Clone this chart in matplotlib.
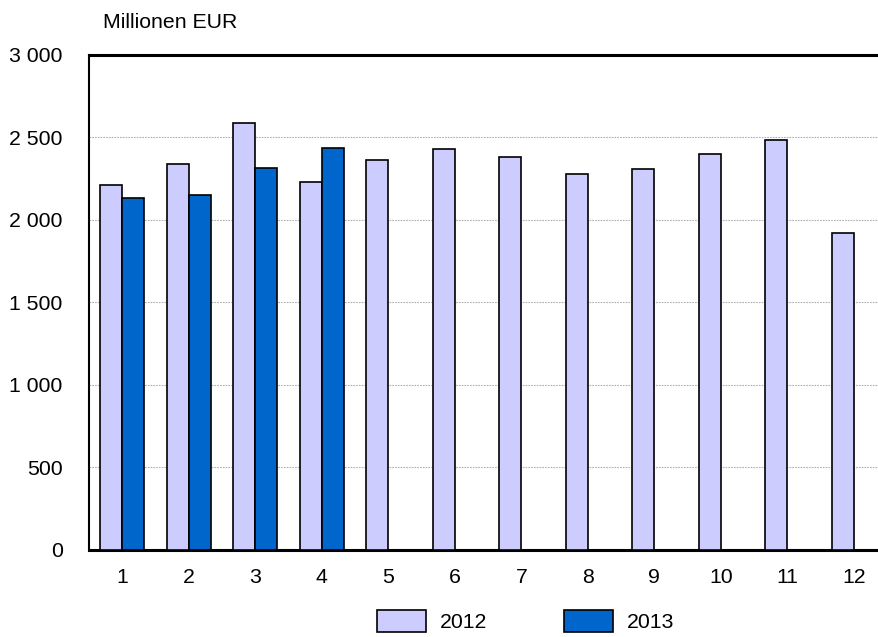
import matplotlib.pyplot as plt
import numpy as np
from matplotlib.patches import Patch

plt.rcParams['font.family'] = ['Liberation Sans', 'DejaVu Sans']

months = list(range(1, 13))
values_2012 = [2210, 2339, 2588, 2228, 2366, 2428, 2382, 2277, 2311, 2400, 2485, 1923]
values_2013 = [2133, 2152, 2317, 2434]
yticks = [0, 500, 1000, 1500, 2000, 2500, 3000]
ytick_labels = ['0', '500', '1 000', '1 500', '2 000', '2 500', '3 000']

color_2012 = '#CCCCFF'
color_2013 = '#0066CC'
bar_w = 0.33

fig = plt.figure(figsize=(8.79, 6.37), dpi=100)
ax = fig.add_axes([0.1013, 0.1366, 0.908, 0.7771])

x = np.array(months)
# 2012 left of the month centre, 2013 right of it
ax.bar(x[:len(values_2012)] - bar_w, values_2012, width=bar_w, align='edge',
       color=color_2012, edgecolor='black', linewidth=1.2, zorder=3)
ax.bar(x[:len(values_2013)], values_2013, width=bar_w, align='edge',
       color=color_2013, edgecolor='black', linewidth=1.2, zorder=3)

ax.set_xlim(0.5, 12.5)
ax.set_ylim(0, 3000)
ax.set_xticks(months)
ax.set_xticklabels([str(m) for m in months])
ax.set_yticks(yticks)
ax.set_yticklabels(ytick_labels)
ax.tick_params(axis='both', length=0, labelsize=15.3)
ax.tick_params(axis='y', pad=19)
ax.tick_params(axis='x', pad=13)

ax.yaxis.grid(True, color='#b0b0b0', linestyle=(0, (1.5, 1)), linewidth=0.8, zorder=0)
ax.set_axisbelow(True)

ax.spines['right'].set_visible(False)
ax.spines['left'].set_linewidth(1.5)
ax.spines['top'].set_linewidth(2.2)
ax.spines['bottom'].set_linewidth(2.2)

fig.text(103 / 879, 1 - 23 / 637, 'Millionen EUR', fontsize=15.3, va='center', ha='left')

handles = [Patch(facecolor=color_2012, edgecolor='black', linewidth=1.2, label='2012'),
           Patch(facecolor=color_2013, edgecolor='black', linewidth=1.2, label='2013')]
fig.legend(handles=handles, loc='center', bbox_to_anchor=(0.598, 0.025), ncol=2,
           frameon=False, fontsize=15.3, handlelength=2.3, handleheight=1.2,
           handletextpad=0.65, columnspacing=3.6)

fig.savefig('out.png', dpi=100)
